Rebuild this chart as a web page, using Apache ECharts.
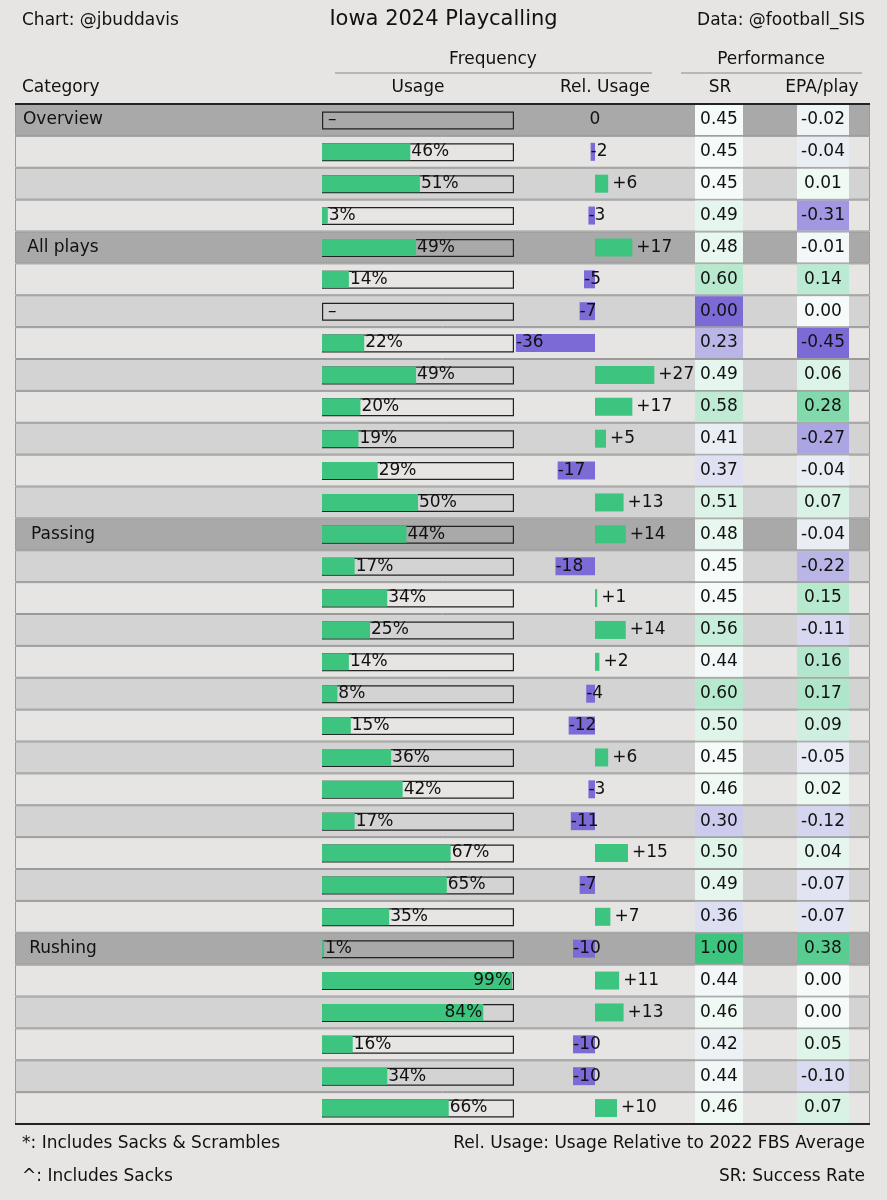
<!DOCTYPE html>
<html><head><meta charset="utf-8">
<script src="https://cdn.jsdelivr.net/npm/echarts@6/dist/echarts.min.js"></script>
<style>html,body{margin:0;padding:0;background:#e6e5e3}#c{width:887px;height:1200px}</style>
</head><body><div id="c"></div>
<script>
const categories = ["All Plays","Pass Attempts","Designed Runs","Sacks & Scrambles*","Motion*","RPO*","10 Personnel*","11 Personnel*","12 Personnel*","21 Personnel*","vs Light Box*","vs 6 Man Box*","vs Heavy Box*","Play Action^","Wide Target","Slot Target","TE Target","RB Target","Screen Pass","Deep (+15 yd) Target","vs MOFO^","vs MOFC^","vs Man^","vs Zone^","vs No-Blitz^","vs Blitz^","QB Des. Run","RB Des. Run","Zone Block","Gap Block","Inside Run","Outside Run"];
const usage = [null,46,51,3,49,14,null,22,49,20,19,29,50,44,17,34,25,14,8,15,36,42,17,67,65,35,1,99,84,16,34,66];
const relUsage = [0,-2,6,-3,17,-5,-7,-36,27,17,5,-17,13,14,-18,1,14,2,-4,-12,6,-3,-11,15,-7,7,-10,11,13,-10,-10,10];
const sr = [0.45,0.45,0.45,0.49,0.48,0.60,0.00,0.23,0.49,0.58,0.41,0.37,0.51,0.48,0.45,0.45,0.56,0.44,0.60,0.50,0.45,0.46,0.30,0.50,0.49,0.36,1.00,0.44,0.46,0.42,0.44,0.46];
const epa = [-0.02,-0.04,0.01,-0.31,-0.01,0.14,0.00,-0.45,0.06,0.28,-0.27,-0.04,0.07,-0.04,-0.22,0.15,-0.11,0.16,0.17,0.09,-0.05,0.02,-0.12,0.04,-0.07,-0.07,0.38,0.00,0.00,0.05,-0.10,0.07];
const groupNames = ["Overview","All plays","Passing","Rushing"];
const groupStart = [0,4,13,26];

const GREEN='#3dc47e', PURPLE='#7c6bd6';
const FONT='DejaVu Sans';
function mix(a,b,t){const pa=[1,3,5].map(i=>parseInt(a.substr(i,2),16)),pb=[1,3,5].map(i=>parseInt(b.substr(i,2),16));
 return 'rgb('+pa.map((v,i)=>Math.round(v+(pb[i]-v)*t)).join(',')+')';}
function divColor(v,center,span){let t=(v-center)/span;t=Math.max(-1,Math.min(1,t));
 return t>=0?mix('#f4fbf8','#3dc47e',t):mix('#f4fbf8','#7c6bd6',-t);}

const gTop=104,gBottom=1200-1124;
const rowData=categories.map((c,i)=>{
 const g=groupStart.indexOf(i);
 const col=g>=0?'#a9a9a9':(i%2===0?'#d3d3d3':'#e6e5e3');
 return {value:1,itemStyle:{color:col},label:{show:g>=0,formatter:g>=0?groupNames[g]:''}};
});
const grids=[
 {left:15,right:17,top:gTop,bottom:gBottom},
 {left:322,width:192,top:gTop,bottom:gBottom},
 {left:515,width:160,top:gTop,bottom:gBottom},
 {left:695,width:48,top:gTop,bottom:gBottom},
 {left:797,width:52,top:gTop,bottom:gBottom}
];
const yAx=grids.map((g,i)=>({type:'category',gridIndex:i,data:categories,inverse:true,
 axisLine:{show:false},axisTick:{show:false},
 axisLabel:{show:i===1,margin:25,fontFamily:FONT,fontSize:17,color:'#111'}}));
const xAx=[
 {type:'value',gridIndex:0,min:0,max:1,show:false},
 {type:'value',gridIndex:1,min:0,max:100,show:false},
 {type:'value',gridIndex:2,min:-36.4,max:36.4,show:false},
 {type:'value',gridIndex:3,min:0,max:1,show:false},
 {type:'value',gridIndex:4,min:0,max:1,show:false}
];
const lbl={fontFamily:FONT,fontSize:17,color:'#111'};
const option={
 backgroundColor:'#e6e5e3',animation:false,
 grid:grids,xAxis:xAx,yAxis:yAx,
 series:[
  {type:'bar',xAxisIndex:0,yAxisIndex:0,data:rowData,barWidth:'100%',silent:true,
   itemStyle:{borderColor:'#9a9a9a',borderWidth:1},
   label:Object.assign({position:[48,'50%'],align:'center',verticalAlign:'middle'},lbl)},
  {type:'bar',xAxisIndex:1,yAxisIndex:1,data:categories.map(()=>100),barWidth:18,barGap:'-100%',z:3,
   itemStyle:{color:'rgba(0,0,0,0)',borderColor:'#222',borderWidth:1.2}},
  {type:'bar',xAxisIndex:1,yAxisIndex:1,barWidth:17,z:4,
   data:usage.map(v=>({value:v===null?0:v,label:{
     position:v===null?'insideLeft':(v>80?'insideRight':'right'),distance:v===null?6:1,
     formatter:v===null?'–':v+'%'}})),
   itemStyle:{color:GREEN},label:Object.assign({show:true},lbl)},
  {type:'bar',xAxisIndex:2,yAxisIndex:2,barWidth:18,z:4,
   data:relUsage.map(v=>({value:v,itemStyle:{color:v>=0?GREEN:PURPLE},
     label:{position:v===0?['50%','50%']:(v>0?'right':'insideLeft'),distance:v>0?4:0,
       align:v===0?'center':undefined,verticalAlign:'middle',
       formatter:v>0?'+'+v:String(v)}})),
   label:Object.assign({show:true},lbl)},
  {type:'bar',xAxisIndex:3,yAxisIndex:3,barWidth:30,z:4,
   data:sr.map(v=>({value:1,itemStyle:{color:divColor(v,0.45,0.45)},
     label:{formatter:v.toFixed(2)}})),
   label:Object.assign({show:true,position:'inside'},lbl)},
  {type:'bar',xAxisIndex:4,yAxisIndex:4,barWidth:30,z:4,
   data:epa.map(v=>({value:1,itemStyle:{color:divColor(v,0,0.45)},
     label:{formatter:v.toFixed(2)}})),
   label:Object.assign({show:true,position:'inside'},lbl)}
 ],
 graphic:[
  {type:'text',left:22,top:12,style:{text:'Chart: @jbuddavis',font:'17px DejaVu Sans',fill:'#111'}},
  {type:'text',left:'center',top:9,style:{text:'Iowa 2024 Playcalling',font:'21px DejaVu Sans',fill:'#111'}},
  {type:'text',right:22,top:12,style:{text:'Data: @football_SIS',font:'17px DejaVu Sans',fill:'#111'}},
  {type:'text',x:493,y:60,style:{text:'Frequency',font:'17px DejaVu Sans',fill:'#111',align:'center',verticalAlign:'middle'}},
  {type:'text',x:771,y:60,style:{text:'Performance',font:'17px DejaVu Sans',fill:'#111',align:'center',verticalAlign:'middle'}},
  {type:'line',shape:{x1:335,y1:73,x2:652,y2:73},style:{stroke:'#888',lineWidth:1}},
  {type:'line',shape:{x1:681,y1:73,x2:862,y2:73},style:{stroke:'#888',lineWidth:1}},
  {type:'text',x:22,y:88,style:{text:'Category',font:'17px DejaVu Sans',fill:'#111',verticalAlign:'middle'}},
  {type:'text',x:418,y:88,style:{text:'Usage',font:'17px DejaVu Sans',fill:'#111',align:'center',verticalAlign:'middle'}},
  {type:'text',x:605,y:88,style:{text:'Rel. Usage',font:'17px DejaVu Sans',fill:'#111',align:'center',verticalAlign:'middle'}},
  {type:'text',x:720,y:88,style:{text:'SR',font:'17px DejaVu Sans',fill:'#111',align:'center',verticalAlign:'middle'}},
  {type:'text',x:822,y:88,style:{text:'EPA/play',font:'17px DejaVu Sans',fill:'#111',align:'center',verticalAlign:'middle'}},
  {type:'line',z:10,shape:{x1:15,y1:104,x2:870,y2:104},style:{stroke:'#222',lineWidth:2}},
  {type:'line',z:10,shape:{x1:15,y1:1124,x2:870,y2:1124},style:{stroke:'#222',lineWidth:2}},
  {type:'text',x:22,y:1144,style:{text:'*: Includes Sacks & Scrambles',font:'17px DejaVu Sans',fill:'#111',verticalAlign:'middle'}},
  {type:'text',x:22,y:1177,style:{text:'^: Includes Sacks',font:'17px DejaVu Sans',fill:'#111',verticalAlign:'middle'}},
  {type:'text',x:865,y:1144,style:{text:'Rel. Usage: Usage Relative to 2022 FBS Average',font:'17px DejaVu Sans',fill:'#111',align:'right',verticalAlign:'middle'}},
  {type:'text',x:865,y:1177,style:{text:'SR: Success Rate',font:'17px DejaVu Sans',fill:'#111',align:'right',verticalAlign:'middle'}}
 ]
};
echarts.init(document.getElementById('c')).setOption(option);
</script></body></html>
